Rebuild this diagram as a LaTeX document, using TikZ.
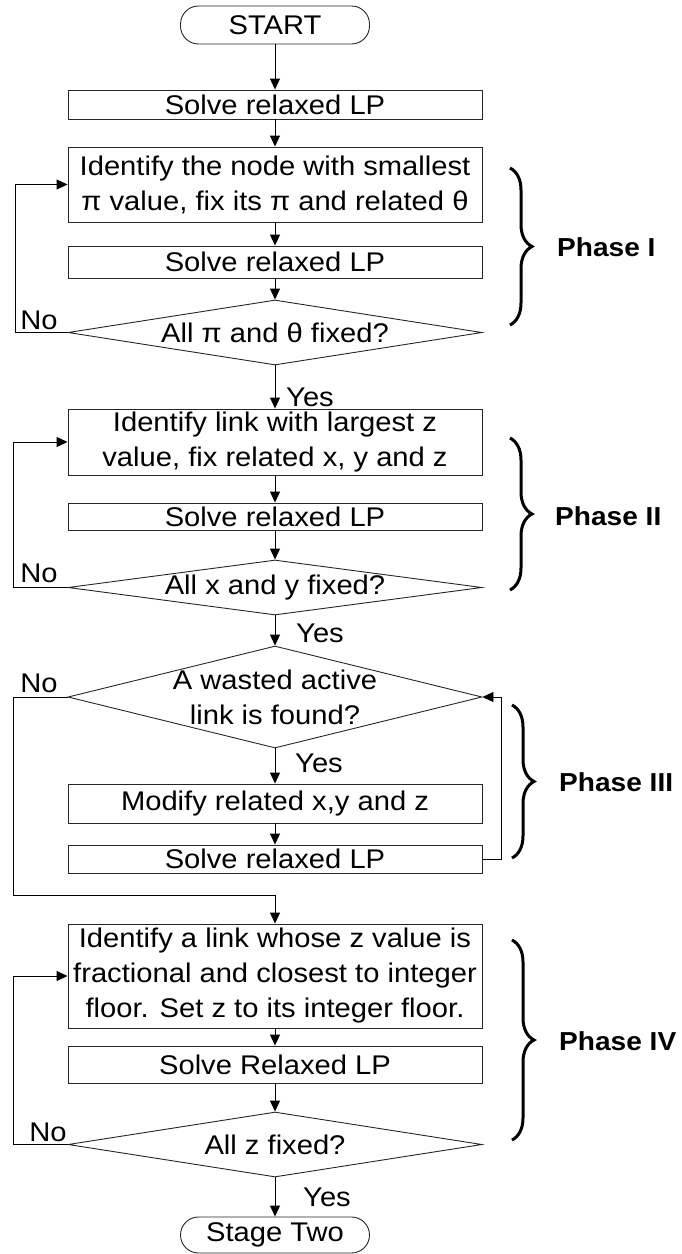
\documentclass[tikz,border=0pt]{standalone}
\usepackage{fontspec}
\setmainfont{Liberation Sans}[FakeStretch=1.08]
\usetikzlibrary{arrows.meta,shapes.geometric,decorations.pathreplacing}
\newcommand\mainfs{\fontsize{27pt}{35pt}\selectfont}
\newcommand\phasefs{\fontsize{26pt}{32pt}\selectfont\bfseries}
\begin{document}
\begin{tikzpicture}[x=1pt,y=-1pt,
  box/.style={draw=black!85, line width=0.9pt, minimum width=414pt, inner sep=0pt, align=center, font=\mainfs},
  term/.style={draw=black!85, line width=0.9pt, minimum width=189pt, rounded corners=18pt, inner sep=0pt, font=\mainfs},
  dia/.style={draw=black!85, line width=0.9pt, diamond, minimum width=414pt, inner sep=0pt},
  txt/.style={align=center, font=\mainfs, inner sep=0pt},
  lbl/.style={font=\mainfs, inner sep=0pt},
  arr/.style={-{Triangle[length=11pt,width=10pt]}, line width=0.9pt, draw=black},
  ln/.style={line width=0.9pt, draw=black},
  bracestyle/.style={decorate, decoration={brace, amplitude=22pt}, line width=3pt},
  phase/.style={font=\phasefs, anchor=west, inner sep=0pt}
]
\useasboundingbox (0,0) rectangle (681,1254);

% nodes
\node[term, minimum height=38pt] (start) at (275,25) {START};
\node[box, minimum height=29pt] (s1) at (275,104.5) {Solve relaxed LP};
\node[box, minimum height=75pt] (id1) at (275,184.5) {Identify the node with smallest\\π value, fix its π and related θ};
\node[box, minimum height=32pt] (s2) at (275,262) {Solve relaxed LP};
\node[dia, minimum height=65pt] (d1) at (275,332.5) {};
\node[txt] (t1) at (d1) {All π and θ fixed?};
\node[box, minimum height=66pt] (id2) at (275,442) {Identify link with largest z\\value, fix related x, y and z};
\node[box, minimum height=27pt] (s3) at (275,516.5) {Solve relaxed LP};
\node[dia, minimum height=55pt] (d2) at (275,587.5) {};
\node[txt] (t2) at (d2) {All x and y fixed?};
\node[dia, minimum height=102pt] (d3) at (275,697) {};
\node[txt] (t3) at (d3) {A wasted active\\link is found?};
\node[box, minimum height=39pt] (mod) at (275,803.5) {Modify related x,y and z};
\node[box, minimum height=28pt] (s4) at (275,859) {Solve relaxed LP};
\node[box, minimum height=104pt] (id3) at (275,976) {Identify a link whose z value is\\fractional and closest to integer\\floor. Set z to its integer floor.};
\node[box, minimum height=37pt] (s5) at (275,1064.5) {Solve Relaxed LP};
\node[dia, minimum height=65pt] (d4) at (275,1144.5) {};
\node[txt] (t4) at (d4) {All z fixed?};
\node[term, minimum height=36pt] (end) at (275,1235) {Stage Two};

% main flow
\draw[arr] (start) -- (s1);
\draw[arr] (s1) -- (id1);
\draw[arr] (id1) -- (s2);
\draw[arr] (s2) -- (d1);
\draw[arr] (d1) -- (id2);
\draw[arr] (id2) -- (s3);
\draw[arr] (s3) -- (d2);
\draw[arr] (d2) -- (d3);
\draw[arr] (d3) -- (mod);
\draw[arr] (mod) -- (s4);
\draw[arr] (id3) -- (s5);
\draw[arr] (s5) -- (d4);
\draw[arr] (d4) -- (end);

% loops
\draw[arr] (d1.west) -- (15,332.5) |- (id1.west);
\draw[arr] (d2.west) -- (13,587.5) |- (id2.west);
\draw[arr] (d3.west) -- (13,697) |- (275,895) -- (id3.north);
\draw[arr] (s4.east) -| (501,697) -- (d3.east);
\draw[arr] (d4.west) -- (13,1144.5) |- (id3.west);

% labels
\node[lbl] (y1) at (310,397) {Yes};
\node[lbl] (y2) at (320,633) {Yes};
\node[lbl] (y3) at (319,763) {Yes};
\node[lbl] (y4) at (327,1197) {Yes};
\node[lbl] (n1) at (39,320) {No};
\node[lbl] (n2) at (39,573) {No};
\node[lbl] (n3) at (39,683) {No};
\node[lbl] (n4) at (48,1132) {No};

% braces
\draw[bracestyle] (510,168) -- (510,325);
\draw[bracestyle] (510,438) -- (510,590);
\draw[bracestyle] (512,705) -- (512,858);
\draw[bracestyle] (512,940) -- (512,1140);
\node[phase] (p1) at (557,247) {Phase I};
\node[phase] (p2) at (555,516) {Phase II};
\node[phase] (p3) at (559,782) {Phase III};
\node[phase] (p4) at (559,1041) {Phase IV};
\end{tikzpicture}
\end{document}
